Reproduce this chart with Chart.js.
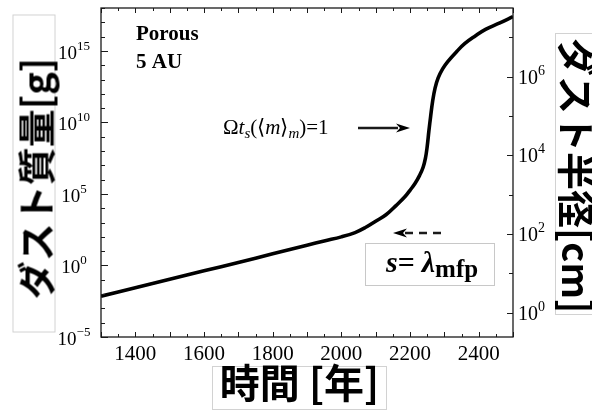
<!DOCTYPE html>
<html>
<head>
<meta charset="utf-8">
<script src="https://cdn.jsdelivr.net/npm/chart.js@4.4.1/dist/chart.umd.min.js"></script>
<style>
  html, body { margin: 0; padding: 0; background: #fff; }
  #wrap { position: relative; width: 592px; height: 412px; overflow: hidden; }
  #c { position: absolute; left: 0; top: 0; }
  .ttl {
    position: absolute; box-sizing: border-box; border: 1px solid #d2d2d2; background: #fff;
    display: flex; align-items: center; justify-content: center; white-space: nowrap;
    font-family: "Noto Sans CJK JP", sans-serif; font-weight: bold; font-size: 38px; line-height: 1; color: #000;
  }
</style>
</head>
<body>
<div id="wrap">
  <canvas id="c" width="592" height="412"></canvas>
  <div class="ttl" id="yTitle" style="left:-125px; top:152px; width:318px; height:43px; transform:rotate(-90deg); padding-right:10px;">ダスト質量[g]</div>
  <div class="ttl" id="y2Title" style="left:437px; top:151px; width:282px; height:46px; transform:rotate(90deg); padding-left:4px; justify-content:flex-start;">ダスト半径[cm]</div>
  <div class="ttl" id="xTitle" style="left:212px; top:366px; width:175px; height:44px; font-size:40px; padding-bottom:14px; overflow:visible;">時間 [年]</div>
</div>
<script>
// time in years, dust mass in grams
const years = [1300, 1400, 1500, 1600, 1700, 1800, 1900, 1950, 2000, 2040, 2070, 2100, 2130, 2160, 2185, 2200,
  2215, 2228, 2238, 2245, 2250, 2255, 2260, 2266, 2273, 2282, 2295, 2310, 2335, 2360, 2390, 2420, 2460, 2500];
const dustMass = [7.1e-3, 2.8e-2, 1.1e-1, 4.2e-1, 1.6, 6.6, 26, 52, 100, 200, 450, 1.25e3, 3.5e3, 1.6e4, 6.3e4, 1.8e5,
  5.6e5, 2.0e6, 7.1e6, 3.2e7, 2.0e8, 2.5e9, 2.5e10, 3.2e11, 2.5e12, 1.3e13, 5.6e13, 1.8e14, 8.5e14, 3.3e15, 1.1e16, 3.2e16, 8.7e16, 2.5e17];

const xTickLabels = [1400, 1600, 1800, 2000, 2200, 2400];
const massTickExps = [-5, 0, 5, 10, 15];
const radiusTickExps = [0, 2, 4, 6];

const SERIF = '"Liberation Serif", "Times New Roman", serif';

// draw a run of text pieces with their own fonts / vertical offsets
function drawRuns(ctx, runs, x, base) {
  runs.forEach((r) => {
    ctx.font = r.font;
    ctx.fillText(r.text, x, base + (r.dy || 0));
    x += ctx.measureText(r.text).width + (r.gap || 0);
  });
  return x;
}

function powRuns(exp, size) {
  const e = exp < 0 ? "\u2212" + Math.abs(exp) : String(exp);
  return [
    { text: "10", font: `${size}px ${SERIF}` },
    { text: e, font: `${Math.round(size * 0.68)}px ${SERIF}`, dy: -9 },
  ];
}

function runsWidth(ctx, runs) {
  let w = 0;
  runs.forEach((r) => { ctx.font = r.font; w += ctx.measureText(r.text).width + (r.gap || 0); });
  return w;
}

function arrowHead(ctx, tipX, y, dir) {
  ctx.beginPath();
  ctx.moveTo(tipX, y);
  ctx.lineTo(tipX - dir * 14, y - 4.5);
  ctx.lineTo(tipX - dir * 10, y);
  ctx.lineTo(tipX - dir * 14, y + 4.5);
  ctx.closePath();
  ctx.fill();
}

const framePlugin = {
  id: "frame",
  afterDraw(chart) {
    const { ctx, chartArea: a, scales } = chart;
    const sx = scales.x, sy = scales.y, sr = scales.y2;
    const tick = (x1, y1, x2, y2) => { ctx.beginPath(); ctx.moveTo(x1, y1); ctx.lineTo(x2, y2); ctx.stroke(); };
    ctx.save();
    ctx.strokeStyle = "#1a1a1a";
    ctx.fillStyle = "#000";
    ctx.lineWidth = 1.3;
    ctx.strokeRect(a.left, a.top, a.right - a.left, a.bottom - a.top);

    // x ticks (inward, bottom and top)
    ctx.lineWidth = 1;
    for (let t = 1300; t <= 2500; t += 50) {
      const px = Math.round(sx.getPixelForValue(t)) + 0.5;
      const len = t % 100 === 0 ? 5 : 3;
      tick(px, a.bottom, px, a.bottom - len);
      tick(px, a.top, px, a.top + len);
    }
    // left mass ticks every decade
    for (let e = -5; e <= 18; e++) {
      const py = Math.round(sy.getPixelForValue(Math.pow(10, e))) + 0.5;
      tick(a.left, py, a.left + (e % 5 === 0 ? 7 : 4), py);
    }
    // right radius ticks every decade
    for (let e = 0; e <= 7; e++) {
      const py = Math.round(sr.getPixelForValue(Math.pow(10, e))) + 0.5;
      tick(a.right, py, a.right - (e % 2 === 0 ? 6 : 4), py);
    }

    // tick labels
    ctx.textBaseline = "alphabetic";
    ctx.textAlign = "left";
    ctx.font = `21px ${SERIF}`;
    xTickLabels.forEach((t) => {
      const s = String(t);
      const w = ctx.measureText(s).width;
      ctx.fillText(s, sx.getPixelForValue(t) - w / 2, a.bottom + 23);
    });
    massTickExps.forEach((e) => {
      const runs = powRuns(e, 19);
      const w = runsWidth(ctx, runs);
      drawRuns(ctx, runs, 74 - w / 2, sy.getPixelForValue(Math.pow(10, e)) + 8);
    });
    radiusTickExps.forEach((e) => {
      drawRuns(ctx, powRuns(e, 20), a.right + 5, sr.getPixelForValue(Math.pow(10, e)) + 7);
    });

    // annotations
    ctx.font = `bold 21px ${SERIF}`;
    ctx.fillText("Porous", 136, 40);
    ctx.fillText("5 AU", 136, 68);

    drawRuns(ctx, [
      { text: "\u03A9", font: `21px ${SERIF}` },
      { text: "t", font: `italic 21px ${SERIF}` },
      { text: "s", font: `italic 15px ${SERIF}`, dy: 4 },
      { text: "(\u27E8", font: `21px ${SERIF}` },
      { text: "m", font: `italic 21px ${SERIF}` },
      { text: "\u27E9", font: `21px ${SERIF}` },
      { text: "m", font: `italic 15px ${SERIF}`, dy: 4 },
      { text: ")=1", font: `21px ${SERIF}` },
    ], 223, 134);

    // solid arrow
    ctx.lineWidth = 2.6;
    tick(358, 128, 398, 128);
    arrowHead(ctx, 410, 128, 1);

    // dashed arrow
    ctx.setLineDash([8, 6]);
    tick(405, 233, 446, 233);
    ctx.setLineDash([]);
    arrowHead(ctx, 393, 233, -1);

    // s = lambda_mfp box
    ctx.lineWidth = 1;
    ctx.strokeStyle = "#c8c8c8";
    ctx.strokeRect(365.5, 243.5, 129, 42);
    drawRuns(ctx, [
      { text: "s", font: `italic bold 30px ${SERIF}` },
      { text: "=", font: `bold 30px ${SERIF}`, gap: 7 },
      { text: "\u03BB", font: `italic bold 30px ${SERIF}` },
      { text: "mfp", font: `bold 25px ${SERIF}`, dy: 5 },
    ], 386, 272);
    ctx.restore();
  },
};

new Chart(document.getElementById("c"), {
  type: "line",
  data: {
    datasets: [{
      data: years.map((t, i) => ({ x: t, y: dustMass[i] })),
      borderColor: "#000",
      borderWidth: 3.6,
      pointRadius: 0,
      fill: false,
      tension: 0.4,
      xAxisID: "x",
      yAxisID: "y",
    }],
  },
  options: {
    responsive: false,
    animation: false,
    devicePixelRatio: 1,
    layout: { padding: { left: 101, right: 79, top: 8, bottom: 75 } },
    plugins: { legend: { display: false }, tooltip: { enabled: false } },
    scales: {
      x: { type: "linear", min: 1300, max: 2500, display: false },
      y: { type: "logarithmic", min: 1e-5, max: 1e18, display: false },
      y2: { type: "logarithmic", position: "right", min: 0.24, max: 5.6e7, display: false },
    },
  },
  plugins: [framePlugin],
});
</script>
</body>
</html>
